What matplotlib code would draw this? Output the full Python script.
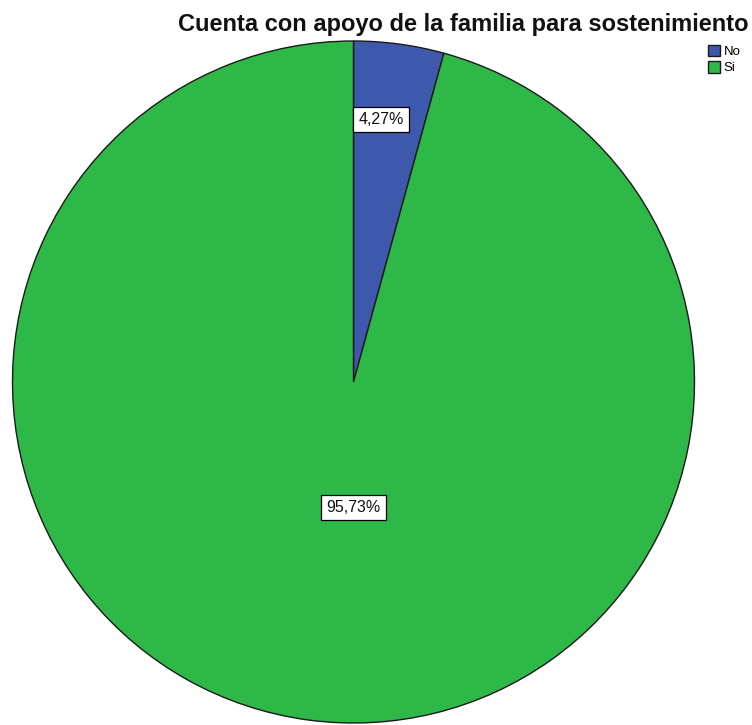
import matplotlib
matplotlib.use("Agg")
import matplotlib.pyplot as plt

plt.rcParams['font.family'] = ['Liberation Sans', 'DejaVu Sans']

categorias = ['No', 'Si']
porcentajes = [4.27, 95.73]
colores = ['#3e58ac', '#2eb848']
titulo = 'Cuenta con apoyo de la familia para sostenimiento'

# posicion de cada etiqueta dentro del pastel (coordenadas de datos)
pos_etiquetas = [(0.081, 0.770), (0.0, -0.368)]

fig = plt.figure(figsize=(7.52, 7.25), dpi=100)
ax = fig.add_axes([(353.5 - 341) / 752, 2 / 725, 682 / 752, 682 / 725])

wedges, textos, autotextos = ax.pie(
    porcentajes, colors=colores, startangle=90, counterclock=False,
    radius=1, autopct=lambda p: '{:.2f}%'.format(p).replace('.', ','),
    wedgeprops=dict(edgecolor='#1a1a1a', linewidth=1.0),
    textprops=dict(fontsize=11.5, color='#111111'))

for t, pos in zip(autotextos, pos_etiquetas):
    t.set_position(pos)
    t.set_bbox(dict(boxstyle='square,pad=0.33', facecolor='white',
                    edgecolor='black', linewidth=0.9))

ax.set_xlim(-1, 1)
ax.set_ylim(-1, 1)
ax.set_aspect('auto')
ax.axis('off')

fig.text(748 / 752, 1 - 31 / 725, titulo, ha='right', va='baseline',
         fontsize=17, fontweight='bold', color='#111111')

leg = fig.legend(wedges, categorias, loc='upper left',
                 bbox_to_anchor=(701 / 752, 1 - 38 / 725), frameon=False,
                 fontsize=9.5, handlelength=0.95, handleheight=0.95,
                 handletextpad=0.25, labelspacing=0.25, borderpad=0)

fig.savefig('out.png', dpi=100, facecolor='white')
